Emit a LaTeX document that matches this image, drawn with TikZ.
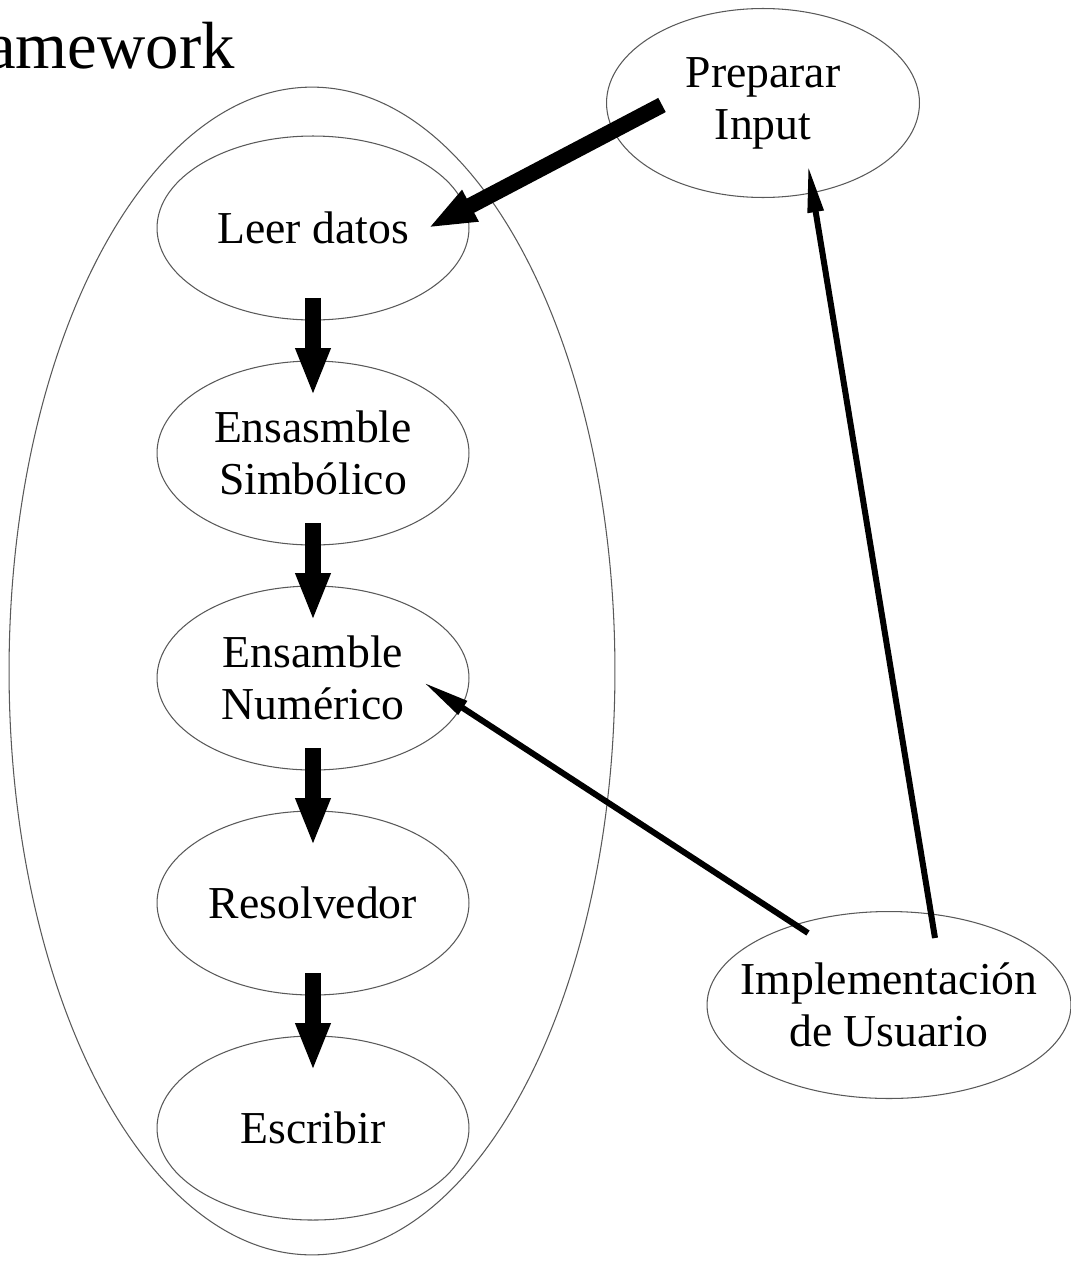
\documentclass[tikz,border=0pt]{standalone}
\usepackage{fontspec}
\setmainfont{Liberation Serif}
\usetikzlibrary{arrows.meta,positioning,shapes.geometric}

\begin{document}
\begin{tikzpicture}[x=0.02cm,y=-0.02cm,node distance=0.8cm,
    every node/.style={align=center,font=\fontsize{26}{29.6}\selectfont},
    blob/.style={draw=black!65,line width=0.6pt,ellipse,minimum width=6.24cm,minimum height=3.68cm},
    fat/.style={-{Triangle[length=0.96cm,width=0.64cm]},line width=0.32cm},
    link/.style={-{Triangle[length=0.95cm,width=0.3cm]},line width=0.12cm}]
    \useasboundingbox (0,0) rectangle (1071,1261);
    \node[anchor=base east,inner sep=0pt,font=\fontsize{38}{44}\selectfont] (title) at (235,68) {Framework};
    \node[draw=black!65,line width=0.6pt,ellipse,minimum width=12.12cm,minimum height=23.36cm] (fw) at (312,671) {};
    \node[blob] (leer) at (313,228) {Leer datos};
    \node[blob] (simb) [below=of leer] {Ensasmble\\Simbólico};
    \node[blob] (num) [below=of simb] {Ensamble\\Numérico};
    \node[blob] (resol) [below=of num] {Resolvedor};
    \node[blob] (escr) [below=of resol] {Escribir};
    \node[blob,minimum width=6.26cm,minimum height=3.78cm] (prep) at (763,103) {Preparar\\Input};
    \node[blob,minimum width=7.28cm,minimum height=3.74cm,inner xsep=-0.4cm] (impl) at (889,1005) {Implementación\\de Usuario};
    \foreach \a/\b in {leer/simb,simb/num,num/resol,resol/escr}
      \draw[fat,shorten <=1.4cm,shorten >=1.14cm] (\a.center) -- (\b.center);
    \draw[fat] ([shift={(-101,2)}]prep.center) -- ([shift={(115,0)}]leer.center);
    \draw[link] ([shift={(-81,-72)}]impl.center) -- ([shift={(110,4)}]num.center);
    \draw[link] ([shift={(46,-67)}]impl.center) -- ([shift={(45,62)}]prep.center);
  \end{tikzpicture}
\end{document}
